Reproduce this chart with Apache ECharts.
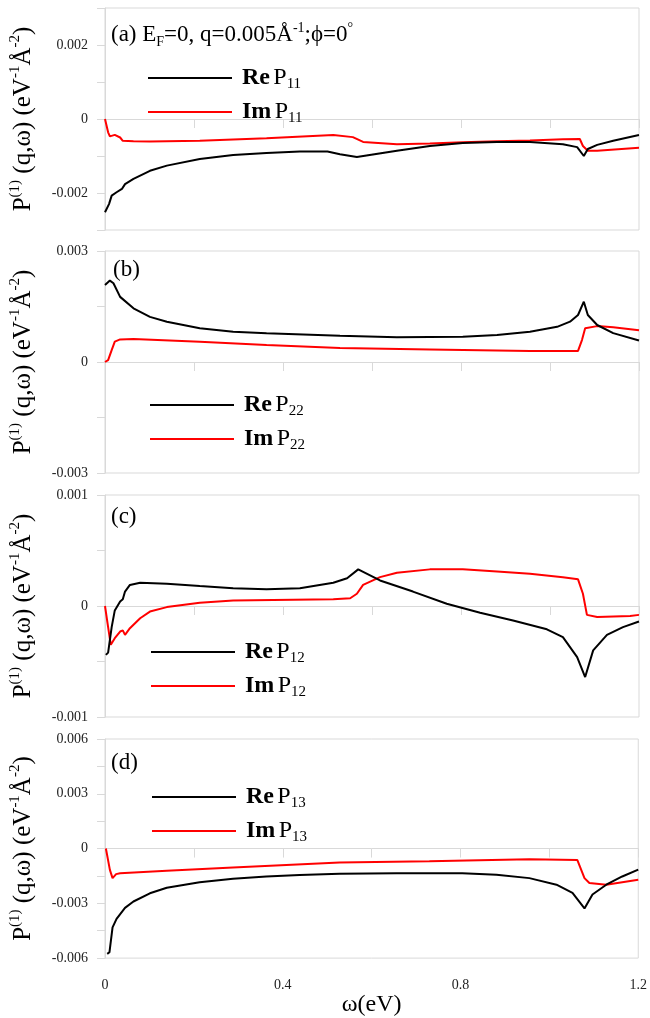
<!DOCTYPE html>
<html>
<head>
<meta charset="utf-8">
<script src="https://cdn.jsdelivr.net/npm/echarts@6/dist/echarts.min.js"></script>
<style>html,body{margin:0;padding:0;background:#fff}#c{width:650px;height:1018px}</style>
</head>
<body>
<div id="c"></div>
<script>
// ---- data (omega in eV, P in eV^-1 Å^-2) ----
const reP11 = [[0,-0.00252],[0.004,-0.00251],[0.009,-0.0023],[0.015,-0.00207],[0.026,-0.00198],[0.038,-0.00189],[0.045,-0.00176],[0.064,-0.00162],[0.101,-0.0014],[0.139,-0.00126],[0.213,-0.00108],[0.288,-0.00097],[0.363,-0.00092],[0.438,-0.00088],[0.5,-0.00088],[0.528,-0.00095],[0.566,-0.00103],[0.656,-0.00086],[0.73,-0.00073],[0.804,-0.00065],[0.881,-0.00062],[0.955,-0.00062],[1.029,-0.00068],[1.061,-0.00076],[1.076,-0.001],[1.085,-0.00081],[1.106,-0.0007],[1.142,-0.00059],[1.2,-0.00043]];
const imP11 = [[0,0],[0.007,-0.00036],[0.011,-0.00047],[0.022,-0.00043],[0.034,-0.0005],[0.04,-0.00059],[0.064,-0.0006],[0.101,-0.00061],[0.213,-0.00059],[0.363,-0.00052],[0.513,-0.00043],[0.557,-0.00049],[0.58,-0.00062],[0.656,-0.00068],[0.73,-0.00066],[0.804,-0.00063],[0.881,-0.0006],[0.955,-0.00058],[1.029,-0.00055],[1.067,-0.00054],[1.074,-0.00073],[1.085,-0.00086],[1.106,-0.00086],[1.2,-0.00078]];
const reP22 = [[0,0.00208],[0.011,0.0022],[0.019,0.00213],[0.034,0.00176],[0.064,0.00145],[0.101,0.00122],[0.139,0.00109],[0.213,0.00091],[0.288,0.00082],[0.363,0.00078],[0.528,0.00071],[0.656,0.00067],[0.804,0.00068],[0.881,0.00073],[0.955,0.00082],[1.016,0.00095],[1.045,0.00109],[1.063,0.00127],[1.076,0.00163],[1.085,0.00127],[1.106,0.001],[1.142,0.00078],[1.2,0.00058]];
const imP22 = [[0,0],[0.007,0.00005],[0.015,0.00032],[0.022,0.00055],[0.034,0.00061],[0.064,0.00062],[0.213,0.00055],[0.363,0.00046],[0.528,0.00038],[0.73,0.00034],[0.955,0.0003],[1.063,0.0003],[1.072,0.0006],[1.079,0.00091],[1.106,0.00097],[1.142,0.00094],[1.2,0.00086]];
const reP12 = [[0.002,-0.00044],[0.007,-0.00042],[0.015,-0.00019],[0.022,-0.00004],[0.034,0.00004],[0.04,0.00006],[0.045,0.00013],[0.056,0.00019],[0.079,0.00021],[0.139,0.0002],[0.213,0.00018],[0.288,0.00016],[0.363,0.00015],[0.438,0.00016],[0.513,0.00021],[0.544,0.00025],[0.569,0.00033],[0.618,0.00023],[0.692,0.00013],[0.768,0.00002],[0.843,-0.00006],[0.917,-0.00013],[0.993,-0.00021],[1.029,-0.00028],[1.061,-0.00046],[1.079,-0.00064],[1.097,-0.0004],[1.128,-0.00026],[1.164,-0.00019],[1.2,-0.00014]];
const imP12 = [[0,0],[0.007,-0.00019],[0.013,-0.00035],[0.022,-0.00029],[0.034,-0.00023],[0.04,-0.00022],[0.045,-0.00026],[0.056,-0.0002],[0.079,-0.00011],[0.101,-0.00005],[0.139,-0.00001],[0.213,0.00003],[0.288,0.00005],[0.513,0.00006],[0.551,0.00007],[0.566,0.00011],[0.58,0.00019],[0.618,0.00026],[0.656,0.0003],[0.73,0.00033],[0.804,0.00033],[0.881,0.00031],[0.955,0.00029],[1.029,0.00026],[1.063,0.00024],[1.074,0.00011],[1.083,-0.00008],[1.106,-0.0001],[1.18,-0.00009],[1.2,-0.00008]];
const reP13 = [[0.005,-0.00577],[0.01,-0.00568],[0.017,-0.00432],[0.026,-0.00385],[0.045,-0.00325],[0.064,-0.0029],[0.101,-0.00245],[0.139,-0.00215],[0.213,-0.00185],[0.288,-0.00165],[0.363,-0.00153],[0.438,-0.00145],[0.528,-0.00138],[0.656,-0.00135],[0.804,-0.00135],[0.881,-0.00144],[0.955,-0.00162],[1.016,-0.00198],[1.052,-0.00243],[1.079,-0.00328],[1.097,-0.00252],[1.128,-0.00198],[1.164,-0.00153],[1.2,-0.00115]];
const imP13 = [[0.002,0],[0.011,-0.00117],[0.017,-0.00162],[0.025,-0.0014],[0.034,-0.00135],[0.139,-0.00121],[0.288,-0.00104],[0.528,-0.00076],[0.73,-0.00069],[0.955,-0.00058],[1.063,-0.00063],[1.079,-0.00162],[1.09,-0.00189],[1.128,-0.00198],[1.2,-0.00171]];

const panelLabels = ['(a)', '(b)', '(c)', '(d)'];
const seriesNames = [['Re P11','Im P11'],['Re P22','Im P22'],['Re P12','Im P12'],['Re P13','Im P13']];
const seriesData = [[reP11, imP11],[reP22, imP22],[reP12, imP12],[reP13, imP13]];
const yMin = [-0.003, -0.003, -0.001, -0.006];
const yMax = [0.003, 0.003, 0.001, 0.006];
const yTickStep = [0.001, 0.0015, 0.0005, 0.0015];
const yLabelStep = [0.002, 0.003, 0.001, 0.003];
const xTickStep = 0.2, xLabelStep = 0.4, xMax = 1.2;

// ---- layout ----
const FONT = 'Liberation Serif';
const gridTops = [8, 251, 495, 739];
const gridH = 222;
const legendPos = [[148, 66], [150, 393], [151, 640], [152, 785]];
const labelPos = [[111, 21], [113, 256], [111, 503], [111, 749]];
const GREY = '#d9d9d9';

function fmtNum(v) {
  const r = parseFloat(v.toFixed(5));
  return r === 0 ? '0' : String(r);
}
function isMult(v, s) {
  const q = v / s;
  return Math.abs(q - Math.round(q)) < 1e-6;
}

const legendRich = {
  n: { fontFamily: FONT, fontSize: 24, fontWeight: 'normal', color: '#000', lineHeight: 28 },
  b: { fontFamily: FONT, fontSize: 24, fontWeight: 'bold', color: '#000', lineHeight: 28 },
  sub: { fontFamily: FONT, fontSize: 15, fontWeight: 'normal', color: '#000', lineHeight: 16, verticalAlign: 'bottom' }
};
const labelRich = {
  n: { fontFamily: FONT, fontSize: 23, fontWeight: 'normal', color: '#000', lineHeight: 28 },
  sub: { fontFamily: FONT, fontSize: 14, fontWeight: 'normal', color: '#000', lineHeight: 15, verticalAlign: 'bottom' },
  sup: { fontFamily: FONT, fontSize: 14, fontWeight: 'normal', color: '#000', lineHeight: 15, verticalAlign: 'top' }
};

const grid = [], xAxis = [], yAxis = [], series = [], legend = [], title = [];
for (let i = 0; i < 4; i++) {
  grid.push({ left: 105, right: 11, top: gridTops[i], height: gridH, show: true, borderColor: GREY, borderWidth: 1, backgroundColor: 'transparent' });
  xAxis.push({
    type: 'value', gridIndex: i, min: 0, max: xMax, interval: xTickStep,
    axisLine: { show: true, lineStyle: { color: GREY, width: 1 } },
    axisTick: { show: true, length: 9, lineStyle: { color: GREY } },
    splitLine: { show: false },
    axisLabel: {
      show: i === 3, margin: 20, fontFamily: FONT, fontSize: 14, color: '#222',
      formatter: v => isMult(v, xLabelStep) ? fmtNum(v) : ''
    },
    name: i === 3 ? 'ω(eV)' : '', nameLocation: 'middle', nameGap: 33,
    nameTextStyle: { fontFamily: FONT, fontSize: 24, color: '#000' }
  });
  const step = yLabelStep[i];
  yAxis.push({
    type: 'value', gridIndex: i, min: yMin[i], max: yMax[i], interval: yTickStep[i],
    axisLine: { show: true, lineStyle: { color: GREY, width: 1 } },
    axisTick: { show: true, length: 8, lineStyle: { color: GREY } },
    splitLine: { show: false },
    axisLabel: { margin: 17, fontFamily: FONT, fontSize: 14, color: '#222',
      formatter: v => isMult(v, step) ? fmtNum(v) : '' },
    name: '{n|P}{sup|(1)}{n| (q,ω) (eV}{sup|-1}{n|Å}{sup|-2}{n|)}',
    nameLocation: 'middle', nameRotate: 90, nameGap: 67,
    nameTextStyle: { rich: {
      n: { fontFamily: FONT, fontSize: 25, color: '#000', lineHeight: 30 },
      sup: { fontFamily: FONT, fontSize: 15, color: '#000', lineHeight: 16, verticalAlign: 'top' }
    } }
  });
  const colors = ['#000000', '#ff0000'];
  for (let k = 0; k < 2; k++) {
    series.push({
      type: 'line', name: seriesNames[i][k], xAxisIndex: i, yAxisIndex: i,
      data: seriesData[i][k], symbol: 'none', showSymbol: false, smooth: false,
      lineStyle: { color: colors[k], width: 2 }, itemStyle: { color: colors[k] },
      z: k === 0 ? 3 : 2
    });
  }
  legend.push({
    data: seriesNames[i].map(n => ({ name: n, icon: 'rect' })),
    orient: 'vertical', left: legendPos[i][0], top: legendPos[i][1],
    itemWidth: 84, itemHeight: 2, itemGap: 8, padding: 0,
    formatter: name => {
      const parts = name.split(' ');
      return '{b|' + parts[0] + '} {n|' + parts[1].charAt(0) + '}{sub|' + parts[1].slice(1) + '}';
    },
    textStyle: { padding: [0, 0, 0, 5], rich: legendRich }
  });
  const lbl = i === 0
    ? '{n|(a) E}{sub|F}{n|=0, q=0.005Å}{sup|-1}{n|;ϕ=0}{sup|°}'
    : '{n|' + panelLabels[i] + '}';
  title.push({ text: lbl, left: labelPos[i][0], top: labelPos[i][1], padding: 0,
    textStyle: { fontWeight: 'normal', rich: labelRich } });
}

const chart = echarts.init(document.getElementById('c'), null, { renderer: 'canvas' });
chart.setOption({ animation: false, backgroundColor: '#fff', title, grid, xAxis, yAxis, legend, series });
</script>
</body>
</html>
